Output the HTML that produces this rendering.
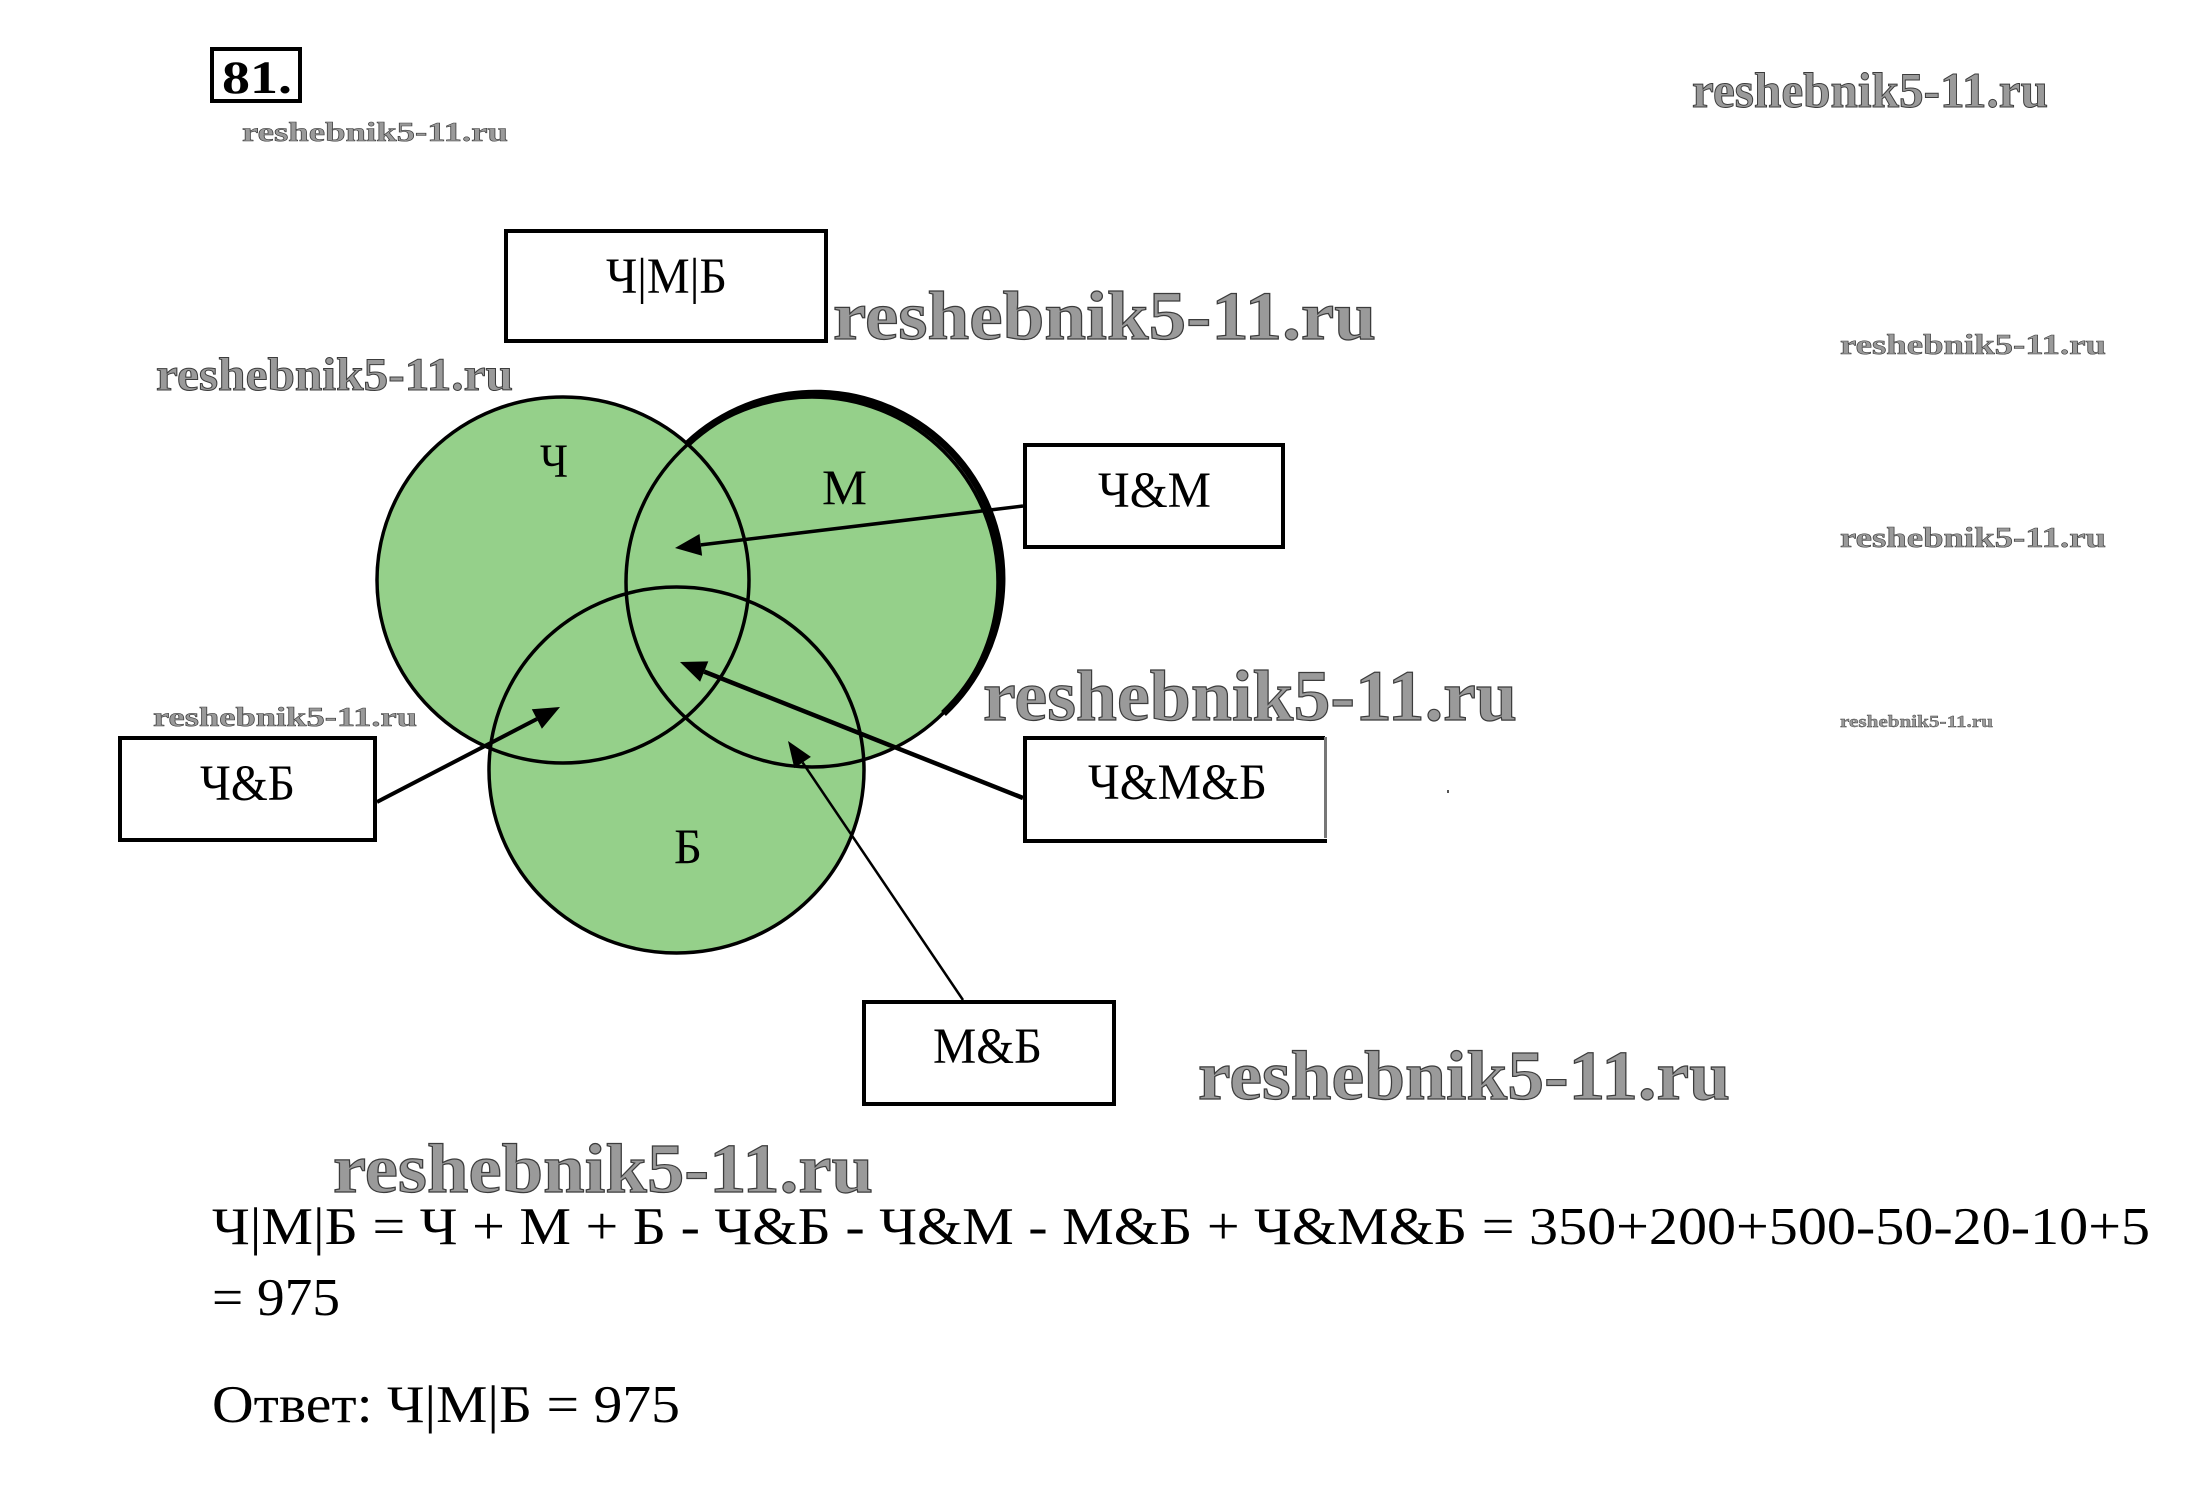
<!DOCTYPE html>
<html>
<head>
<meta charset="utf-8">
<style>
  html, body { margin: 0; padding: 0; background: #ffffff; }
  body { width: 2190px; height: 1503px; overflow: hidden; }
  svg { display: block; }
  .t { font-family: "Liberation Serif", "Noto Serif CJK SC", serif; fill: #000; }
  .wm { font-family: "Liberation Serif", serif; font-weight: bold; fill: #9a9a9a; stroke: #3c3c3c; }
</style>
</head>
<body>
<svg width="2190" height="1503" viewBox="0 0 2190 1503" xmlns="http://www.w3.org/2000/svg">
  <rect x="0" y="0" width="2190" height="1503" fill="#ffffff"/>

  <!-- Problem number -->
  <rect x="212" y="49" width="88" height="52" fill="none" stroke="#000" stroke-width="4"/>
  <text class="t" x="222" y="93" font-size="47" font-weight="bold" textLength="70" lengthAdjust="spacingAndGlyphs">81.</text>

  <!-- Union box -->
  <rect x="506" y="231" width="320" height="110" fill="#fff" stroke="#000" stroke-width="4"/>
  <text class="t" x="606" y="293" font-size="51" textLength="121" lengthAdjust="spacingAndGlyphs">Ч|М|Б</text>

  <!-- Venn fills -->
  <ellipse cx="563" cy="580" rx="186" ry="183" fill="#95d08a"/>
  <ellipse cx="812" cy="582" rx="186" ry="185" fill="#95d08a"/>
  <ellipse cx="676.5" cy="770" rx="187.5" ry="183" fill="#95d08a"/>

  <!-- Venn strokes -->
  <ellipse cx="563" cy="580" rx="186" ry="183" fill="none" stroke="#000" stroke-width="3.5"/>
  <ellipse cx="812" cy="582" rx="186" ry="185" fill="none" stroke="#000" stroke-width="3.5"/>
  <path d="M 687.5 443.8 A 186 185 0 0 1 943.5 713.5" fill="none" stroke="#000" stroke-width="7"/>
  <ellipse cx="676.5" cy="770" rx="187.5" ry="183" fill="none" stroke="#000" stroke-width="3.5"/>

  <!-- Circle labels -->
  <text class="t" x="540" y="477" font-size="48" textLength="28" lengthAdjust="spacingAndGlyphs">Ч</text>
  <text class="t" x="822" y="504" font-size="50" textLength="45" lengthAdjust="spacingAndGlyphs">М</text>
  <text class="t" x="674" y="863" font-size="50" textLength="28" lengthAdjust="spacingAndGlyphs">Б</text>

  <!-- Ч&М box + arrow -->
  <rect x="1025" y="445" width="258" height="102" fill="#fff" stroke="#000" stroke-width="4"/>
  <text class="t" x="1098" y="507" font-size="51" textLength="113" lengthAdjust="spacingAndGlyphs">Ч&amp;М</text>
  <line x1="1023" y1="506" x2="700.8" y2="544.9" stroke="#000" stroke-width="3.5"/>
  <polygon points="675,548 702.1,555.8 699.5,534.0" fill="#000"/>

  <!-- Ч&Б box + arrow -->
  <rect x="120" y="738" width="255" height="102" fill="#fff" stroke="#000" stroke-width="4"/>
  <text class="t" x="200" y="800" font-size="51" textLength="95" lengthAdjust="spacingAndGlyphs">Ч&amp;Б</text>
  <line x1="377" y1="802" x2="536.9" y2="719.0" stroke="#000" stroke-width="4"/>
  <polygon points="560,707 541.9,728.8 531.8,709.2" fill="#000"/>

  <!-- Ч&М&Б box + arrow -->
  <path d="M 1325 738 L 1025 738 L 1025 841 L 1327 841" fill="none" stroke="#000" stroke-width="4"/>
  <line x1="1325.5" y1="737" x2="1325.5" y2="838" stroke="#777" stroke-width="3"/>
  <text class="t" x="1088" y="799" font-size="51" textLength="179" lengthAdjust="spacingAndGlyphs">Ч&amp;М&amp;Б</text>
  <line x1="1023" y1="798" x2="704.2" y2="671.6" stroke="#000" stroke-width="4.5"/>
  <polygon points="680,662 700.1,681.8 708.3,661.4" fill="#000"/>
  <rect x="1447" y="790" width="2" height="3" fill="#555"/>

  <!-- М&Б box + arrow -->
  <rect x="864" y="1002" width="250" height="102" fill="#fff" stroke="#000" stroke-width="4"/>
  <text class="t" x="933" y="1063" font-size="51" textLength="109" lengthAdjust="spacingAndGlyphs">М&amp;Б</text>
  <line x1="963" y1="1000" x2="802.6" y2="762.5" stroke="#000" stroke-width="2.5"/>
  <polygon points="788,741 794.3,768.1 810.9,756.9" fill="#000"/>

  <!-- Watermarks -->
  <text class="wm" x="242" y="141" font-size="27" stroke-width="0.6" textLength="266" lengthAdjust="spacingAndGlyphs">reshebnik5-11.ru</text>
  <text class="wm" x="1692" y="107" font-size="50" stroke-width="1" textLength="356" lengthAdjust="spacingAndGlyphs">reshebnik5-11.ru</text>
  <text class="wm" x="833" y="339" font-size="69" stroke-width="1.2" textLength="543" lengthAdjust="spacingAndGlyphs">reshebnik5-11.ru</text>
  <text class="wm" x="156" y="390" font-size="47" stroke-width="1" textLength="357" lengthAdjust="spacingAndGlyphs">reshebnik5-11.ru</text>
  <text class="wm" x="1840" y="354" font-size="28" stroke-width="0.6" textLength="266" lengthAdjust="spacingAndGlyphs">reshebnik5-11.ru</text>
  <text class="wm" x="1840" y="547" font-size="28" stroke-width="0.6" textLength="266" lengthAdjust="spacingAndGlyphs">reshebnik5-11.ru</text>
  <text class="wm" x="153" y="726" font-size="27" stroke-width="0.6" textLength="264" lengthAdjust="spacingAndGlyphs">reshebnik5-11.ru</text>
  <text class="wm" x="983" y="720" font-size="72" stroke-width="1.2" textLength="534" lengthAdjust="spacingAndGlyphs">reshebnik5-11.ru</text>
  <text class="wm" x="1840" y="727" font-size="17" stroke-width="0.4" textLength="153" lengthAdjust="spacingAndGlyphs">reshebnik5-11.ru</text>
  <text class="wm" x="1198" y="1099" font-size="70" stroke-width="1.2" textLength="532" lengthAdjust="spacingAndGlyphs">reshebnik5-11.ru</text>
  <text class="wm" x="333" y="1192" font-size="70" stroke-width="1.2" textLength="540" lengthAdjust="spacingAndGlyphs">reshebnik5-11.ru</text>

  <!-- Formula -->
  <text class="t" x="212" y="1244" font-size="53" textLength="1938" lengthAdjust="spacingAndGlyphs">Ч|М|Б = Ч + М + Б - Ч&amp;Б - Ч&amp;М - М&amp;Б + Ч&amp;М&amp;Б = 350+200+500-50-20-10+5</text>
  <text class="t" x="212" y="1315" font-size="53" textLength="128" lengthAdjust="spacingAndGlyphs">= 975</text>
  <text class="t" x="212" y="1422" font-size="53" textLength="468" lengthAdjust="spacingAndGlyphs">Ответ: Ч|М|Б = 975</text>
</svg>
</body>
</html>
